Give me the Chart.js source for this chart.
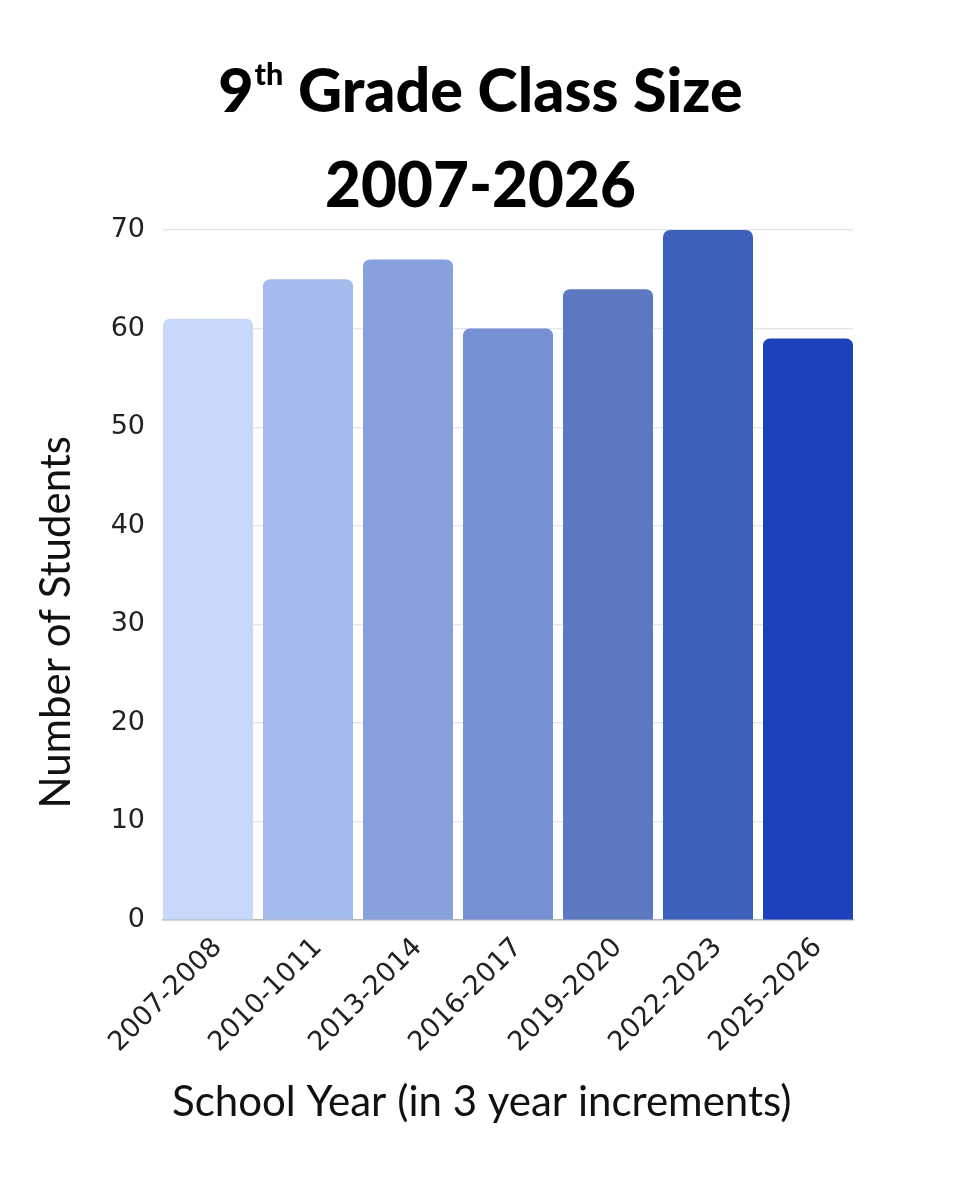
<!DOCTYPE html>
<html>
<head>
<meta charset="utf-8">
<script src="https://cdn.jsdelivr.net/npm/chart.js@4.4.1/dist/chart.umd.min.js"></script>
<style>
  body { margin: 0; background: #fff; }
  #wrap { position: relative; width: 961px; height: 1200px; }
  #title {
    position: absolute; left: 0; top: 42px; width: 961px;
    text-align: center; font-family: "Lato", sans-serif; font-weight: 900;
    font-size: 61px; line-height: 94px; color: #000;
  }
  #title .yr { font-size: 62px; }
  #title sup { font-size: 0.5em; line-height: 0; vertical-align: 0.9em; margin-left: 1px; }
  canvas { position: absolute; left: 0; top: 0; }
</style>
</head>
<body>
<div id="wrap">
  <canvas id="chart" width="961" height="1200"></canvas>
  <div id="title">9<sup>th</sup> Grade Class Size<br><span class="yr">2007-2026</span></div>
</div>
<script>
// school years along the bottom
const years = ['2007-2008', '2010-1011', '2013-2014', '2016-2017', '2019-2020', '2022-2023', '2025-2026'];
// number of 9th graders each year
const students = [61, 65, 67, 60, 64, 70, 59];
// light to dark blue, one per bar
const barColors = ['#c8d8fa', '#a5bbee', '#87a1de', '#7590d3', '#5c78c1', '#3d61bb', '#1c41bb'];

const tickFont = { family: '"DejaVu Sans", sans-serif', size: 27 };
const axisTitleFont = { family: 'Lato, sans-serif', size: 42, weight: '400' };

// linear x so the first and last bars sit flush with the plot edges
const points = students.map((v, i) => ({ x: i, y: v }));

new Chart(document.getElementById('chart'), {
    type: 'bar',
    data: {
        datasets: [{
            data: points,
            backgroundColor: barColors,
            borderRadius: 7,
            barPercentage: 0.9,
            categoryPercentage: 1.0,
        }]
    },
    options: {
        responsive: false,
        animation: false,
        layout: { padding: { top: 230, right: 108, bottom: 60, left: 20 } },
        plugins: { legend: { display: false }, tooltip: { enabled: false } },
        scales: {
            x: {
                type: 'linear',
                offset: false,
                min: -0.45,
                max: years.length - 1 + 0.45,
                grid: { display: false, drawTicks: false },
                border: { display: true, color: '#b5b5b5', width: 1.5 },
                afterBuildTicks: (scale) => { scale.ticks = years.map((y, i) => ({ value: i })); },
                ticks: {
                    font: tickFont, color: '#222', minRotation: 45, maxRotation: 45, padding: 12, labelOffset: 10,
                    callback: (v) => years[v]
                },
                // trailing spaces nudge the title left of the plot centre, as in the original
                title: { display: true, text: 'School Year (in 3 year increments)\u2003\u2002', font: axisTitleFont, color: '#111', padding: { top: 0, bottom: 12 } },
                // fixed height so the plot bottom lands where it should
                afterFit: (scale) => { scale.height = 220; }
            },
            y: {
                min: 0,
                max: 70,
                grid: { color: '#e4e4e4', lineWidth: 1.2, drawTicks: false },
                border: { display: false },
                ticks: { stepSize: 10, font: tickFont, color: '#222', padding: 18 },
                // trailing em spaces push the title a bit below the plot middle, like the original
                title: { display: true, text: 'Number of Students\u2003\u2003\u2003', font: axisTitleFont, color: '#111', padding: { top: 11, bottom: 0 } },
                afterFit: (scale) => { scale.width = 143; }
            }
        }
    }
});
</script>
</body>
</html>
